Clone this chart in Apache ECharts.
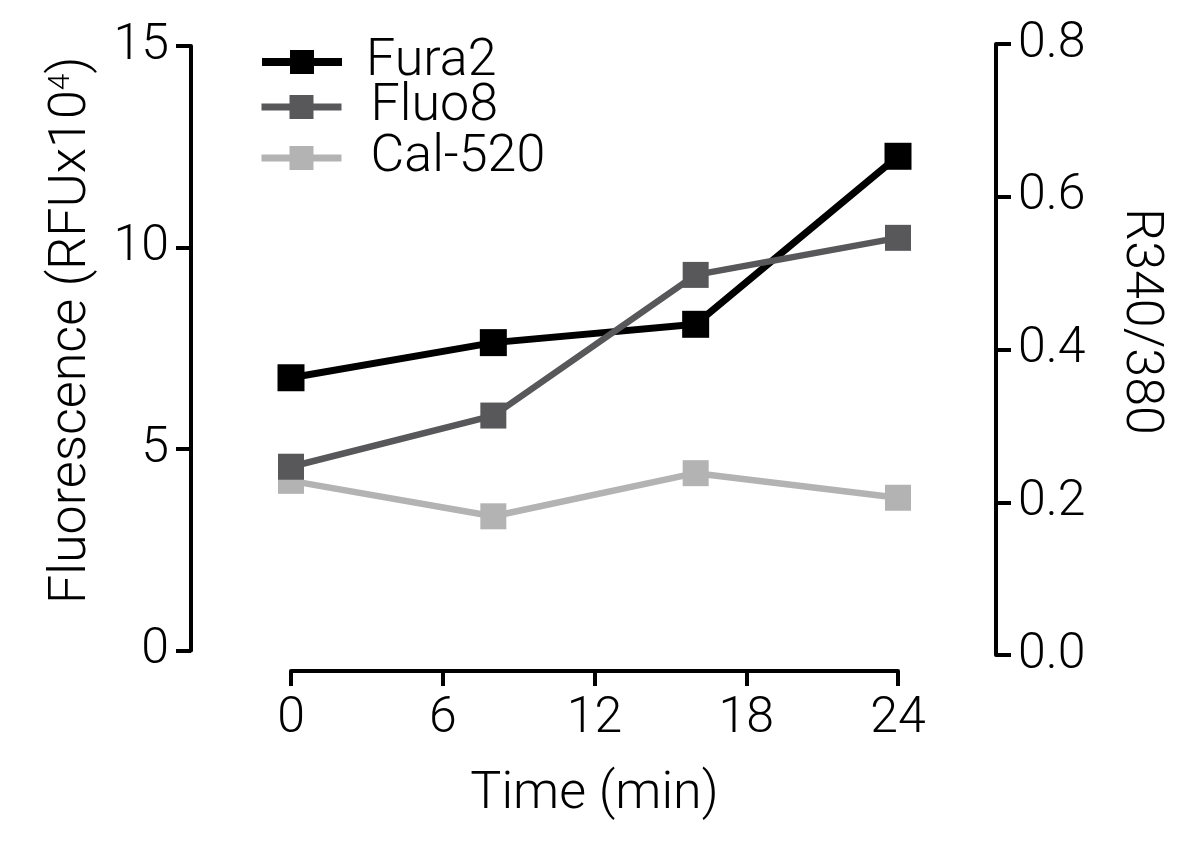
<!DOCTYPE html>
<html><head><meta charset="utf-8">
<script src="https://cdn.jsdelivr.net/npm/echarts@6/dist/echarts.min.js"></script>
<style>html,body{margin:0;padding:0;background:#fff}#c{width:1200px;height:844px}</style>
</head><body><div id="c"></div>
<script>
// ---- data ----
const timePoints = [0, 8, 16, 24];
const fura2 = [0.363, 0.409, 0.433, 0.653];   // right axis (R340/380)
const fluo8 = [4.56, 5.83, 9.32, 10.24];      // left axis (RFU x10^4)
const cal520 = [4.21, 3.33, 4.40, 3.79];      // left axis (RFU x10^4)
const xTickValues = [0, 6, 12, 18, 24];
const leftTickValues = [0, 5, 10, 15];
const rightTickValues = [0.0, 0.2, 0.4, 0.6, 0.8];
const seriesNames = ['Fura2', 'Fluo8', 'Cal-520'];
const seriesColors = ['#000000', '#58585a', '#b3b3b3'];

// ---- chart ----
const FONT = 'Roboto, "DejaVu Sans", sans-serif';
const pairs = arr => timePoints.map((t, i) => [t, arr[i]]);
const mkLine = () => ({ show: true, onZero: false, lineStyle: { color: '#000', width: 4 } });
const mkTick = () => ({ show: true, length: 15, lineStyle: { color: '#000', width: 4 } });
const lbl = () => ({ color: '#000', fontSize: 50, fontFamily: FONT, fontWeight: 300 });

const chart = echarts.init(document.getElementById('c'), null, { renderer: 'canvas' });

function legendAt(i, top, padLeft, lw) {
  return {
    data: [seriesNames[i]], left: 253, top: top, orient: 'vertical',
    itemWidth: 80, itemHeight: 30, selectedMode: false,
    lineStyle: { width: lw },
    textStyle: { color: '#000', fontSize: 52, fontFamily: FONT, fontWeight: 300, padding: [0, 0, 0, padLeft] }
  };
}

chart.setOption({
  animation: false,
  backgroundColor: '#fff',
  legend: [legendAt(0, 31, 19, 8), legendAt(1, 76, 24, 7), legendAt(2, 127, 24, 7)],
  grid: [
    { left: 291, right: 302, top: 46, bottom: 193.5, outerBoundsMode: 'none', containLabel: false },
    { left: 291, right: 302, top: 44, bottom: 189, outerBoundsMode: 'none', containLabel: false }
  ],
  xAxis: [
    {
      gridIndex: 0, type: 'value', min: xTickValues[0], max: xTickValues[xTickValues.length - 1],
      interval: xTickValues[1] - xTickValues[0], offset: 20.5,
      axisLine: mkLine(), axisTick: mkTick(), splitLine: { show: false },
      axisLabel: Object.assign({ margin: 23 }, lbl()),
      name: 'Time (min)', nameLocation: 'middle', nameGap: 98,
      nameTextStyle: { color: '#000', fontSize: 52, fontFamily: FONT, fontWeight: 300 }
    },
    {
      gridIndex: 1, type: 'value', min: xTickValues[0], max: xTickValues[xTickValues.length - 1],
      show: false
    }
  ],
  yAxis: [
    {
      gridIndex: 0, type: 'value', position: 'left', offset: 100,
      min: leftTickValues[0], max: leftTickValues[leftTickValues.length - 1],
      interval: leftTickValues[1] - leftTickValues[0],
      axisLine: mkLine(), axisTick: mkTick(), splitLine: { show: false },
      axisLabel: Object.assign({ margin: 22 }, lbl()),
      name: 'Fluorescence (RFUx10{sup|4})', nameLocation: 'middle', nameGap: 93, nameRotate: 90,
      nameTextStyle: {
        color: '#000', fontSize: 52, fontFamily: FONT, fontWeight: 300, padding: [0, 0, 0, 36],
        rich: { sup: { fontSize: 30, fontFamily: FONT, fontWeight: 300, color: '#000', verticalAlign: 'top', lineHeight: 52 } }
      }
    },
    {
      gridIndex: 1, type: 'value', position: 'right', offset: 98,
      min: rightTickValues[0], max: rightTickValues[rightTickValues.length - 1],
      interval: 0.2,
      axisLine: mkLine(), axisTick: mkTick(), splitLine: { show: false },
      axisLabel: Object.assign({ margin: 22, formatter: v => v.toFixed(1) }, lbl()),
      name: 'R340/380', nameLocation: 'middle', nameGap: 118, nameRotate: -90,
      nameTextStyle: { color: '#000', fontSize: 52, fontFamily: FONT, fontWeight: 300, padding: [0, 56, 0, 0] }
    }
  ],
  series: [
    {
      name: seriesNames[0], type: 'line', xAxisIndex: 1, yAxisIndex: 1, data: pairs(fura2),
      symbol: 'rect', symbolSize: 27, color: seriesColors[0],
      lineStyle: { width: 7, color: seriesColors[0] }, itemStyle: { color: seriesColors[0] }
    },
    {
      name: seriesNames[2], type: 'line', xAxisIndex: 0, yAxisIndex: 0, data: pairs(cal520),
      symbol: 'rect', symbolSize: 26, color: seriesColors[2],
      lineStyle: { width: 6.5, color: seriesColors[2] }, itemStyle: { color: seriesColors[2] }
    },
    {
      name: seriesNames[1], type: 'line', xAxisIndex: 0, yAxisIndex: 0, data: pairs(fluo8),
      symbol: 'rect', symbolSize: 26, color: seriesColors[1],
      lineStyle: { width: 6.5, color: seriesColors[1] }, itemStyle: { color: seriesColors[1] }
    }
  ]
});
</script></body></html>
